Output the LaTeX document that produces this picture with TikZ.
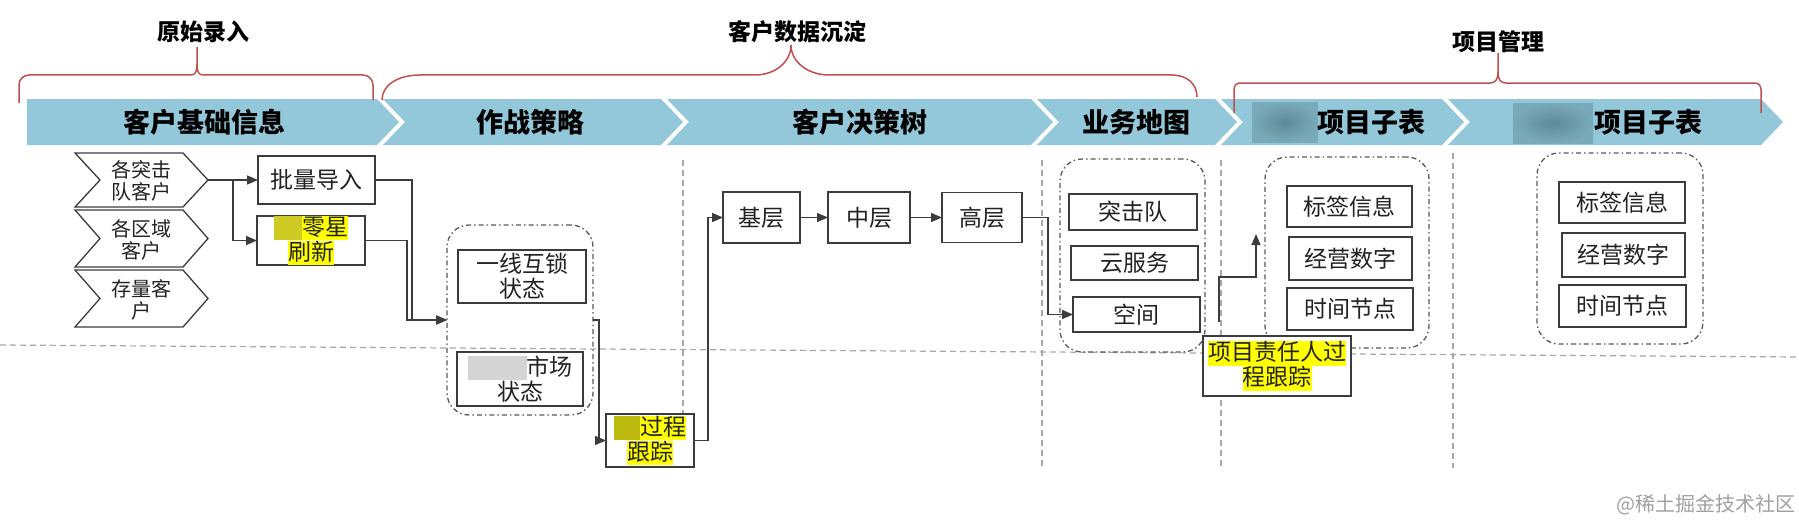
\documentclass[tikz,border=0pt]{standalone}
\usepackage{fontspec}
\setmainfont{Noto Sans CJK SC}
\usetikzlibrary{arrows.meta}
\definecolor{band}{HTML}{92C8DA}
\definecolor{bandblur}{HTML}{5F8A98}
\definecolor{bandblurout}{HTML}{7AAAB9}
\definecolor{bracecol}{HTML}{C0504D}
\definecolor{ln}{HTML}{3C3C3C}
\definecolor{txt}{HTML}{222222}
\definecolor{gridcol}{HTML}{A8A8A8}
\definecolor{hly}{HTML}{FFFF00}
\definecolor{blury}{HTML}{CFCB25}
\definecolor{blurytwo}{HTML}{BDBA10}
\definecolor{blurg}{HTML}{D4D4D4}
\definecolor{wm}{HTML}{A0A0A0}
\newcommand{\hlt}[1]{{\setlength{\fboxsep}{0pt}\colorbox{hly}{\rule[-0.2em]{0pt}{1.05em}#1}}}
\begin{document}
\begin{tikzpicture}[x=1pt,y=-1pt,
  box/.style={draw=ln, line width=1.4pt, fill=white, inner sep=0pt, outer sep=0pt, align=center, text=txt, font=\fontsize{23}{25}\selectfont},
  grp/.style={draw=ln!85, line width=1.3pt, rounded corners=22pt, dash pattern=on 5pt off 3pt on 1.5pt off 3pt, inner sep=0pt, outer sep=0pt},
  gridline/.style={draw=gridcol, line width=1.2pt, dash pattern=on 6pt off 4pt},
  arr/.style={draw=ln, line width=1.4pt, -{Triangle[length=11pt,width=9pt]}},
  bracel/.style={draw=bracecol, line width=1.5pt},
  bandtxt/.style={font=\fontsize{27}{30}\selectfont\bfseries, inner sep=0pt, text=black},
  toptxt/.style={font=\fontsize{23}{25}\selectfont\bfseries, inner sep=0pt, text=black},
  chevtxt/.style={font=\fontsize{20}{22}\selectfont, align=center, inner sep=0pt, text=txt},
  chev/.style={draw=ln, line width=1.3pt, fill=white},
]
\useasboundingbox (0,0) rectangle (1799,527);
\fill[white] (0,0) rectangle (1799,527);

% grid lines
\draw[gridline] (0,345) -- (1799,357);
\draw[gridline] (683,160) -- (683,468);
\draw[gridline] (1042,160) -- (1042,468);
\draw[gridline] (1221,160) -- (1221,468);
\draw[gridline] (1453,153) -- (1453,468);

% band
\fill[band] (27,99) -- (377,99) -- (399,122) -- (377,145) -- (27,145) -- cycle;
\fill[band] (383,99) -- (661,99) -- (683,122) -- (661,145) -- (383,145) -- (405,122) -- cycle;
\fill[band] (667,99) -- (1031,99) -- (1053,122) -- (1031,145) -- (667,145) -- (689,122) -- cycle;
\fill[band] (1037,99) -- (1215,99) -- (1237,122) -- (1215,145) -- (1037,145) -- (1059,122) -- cycle;
\fill[band] (1221,99) -- (1442,99) -- (1464,122) -- (1442,145) -- (1221,145) -- (1243,122) -- cycle;
\fill[band] (1448,99) -- (1761,99) -- (1783,122) -- (1761,145) -- (1448,145) -- (1470,122) -- cycle;
\shade[inner color=bandblur, outer color=bandblurout] (1252,102) rectangle (1318,142);
\shade[inner color=bandblur, outer color=bandblurout] (1513,103) rectangle (1593,143);
\node[bandtxt] (s1) at (204,122) {客户基础信息};
\node[bandtxt] (s2) at (530,122) {作战策略};
\node[bandtxt] (s3) at (860,122) {客户决策树};
\node[bandtxt] (s4) at (1136,122) {业务地图};
\node[bandtxt] (s5) at (1371.5,122) {项目子表};
\node[bandtxt] (s6) at (1648.5,122) {项目子表};

% braces
\draw[bracel] (19,103) -- (19,85) .. controls (19,79.5) and (23.5,75) .. (29,75) -- (191,75)
  .. controls (195,75) and (197,72) .. (197,65) -- (197,47) -- (197,65)
  .. controls (197,72) and (199,75) .. (203,75) -- (363,75)
  .. controls (368.5,75) and (373,79.5) .. (373,85) -- (373,100);
\draw[bracel] (382,100) .. controls (382,85) and (398,75) .. (420,75) -- (755,75)
  .. controls (775,75) and (791,62) .. (791,45) .. controls (791,62) and (808,75) .. (829,75)
  -- (1172,75) .. controls (1187,75) and (1197,84) .. (1197,97);
\draw[bracel] (1234,113) -- (1234,90) .. controls (1234,86) and (1236,83) .. (1240,83) -- (1490,83)
  .. controls (1495,83) and (1498,80) .. (1498,72) -- (1498,53) -- (1498,72)
  .. controls (1498,80) and (1501,83) .. (1506,83) -- (1755,83)
  .. controls (1759,83) and (1761,86) .. (1761,90) -- (1761,113);
\node[toptxt] (t1) at (203,32) {原始录入};
\node[toptxt] (t2) at (797,32) {客户数据沉淀};
\node[toptxt] (t3) at (1498,42) {项目管理};

% chevrons
\draw[chev] (75,153) -- (183,153) -- (208,180) -- (183,207) -- (75,207) -- (100,180) -- cycle;
\draw[chev] (75,210) -- (183,210) -- (208,238.5) -- (183,267) -- (75,267) -- (100,238.5) -- cycle;
\draw[chev] (75,270) -- (183,270) -- (208,298.5) -- (183,327) -- (75,327) -- (100,298.5) -- cycle;
\node[chevtxt] (c1) at (141,181) {各突击\\队客户};
\node[chevtxt] (c2) at (141,240) {各区域\\客户};
\node[chevtxt] (c3) at (141,300) {存量客\\户};
\coordinate (c1tip) at (208,180);
\coordinate (br) at (233,180);

% groups
\node[grp, minimum width=146pt, minimum height=190pt] (g1) at (520,320) {};
\node[grp, minimum width=145pt, minimum height=193pt] (g2) at (1132.5,255.5) {};
\node[grp, minimum width=164pt, minimum height=191pt] (g3) at (1347,252.5) {};
\node[grp, minimum width=166pt, minimum height=191pt] (g4) at (1620,248.5) {};

% boxes
\node[box, minimum width=117pt, minimum height=48pt] (pl) at (316.5,180) {批量导入};
\node[box, minimum width=108pt, minimum height=49pt] (lx) at (311,240.5)
  {\hlt{\textcolor{blury}{\rule[-0.2em]{28pt}{1.05em}}零星}\\\hlt{刷新}};
\node[box, minimum width=128pt, minimum height=53pt] (yx) at (522,276.5) {一线互锁\\状态};
\node[box, minimum width=126pt, minimum height=54pt] (sc) at (520,379)
  {\textcolor{blurg}{\rule[-0.2em]{59pt}{1.05em}}市场\\状态};
\node[box, minimum width=88pt, minimum height=53pt] (gc) at (650,440.5)
  {\hlt{\textcolor{blurytwo}{\rule[-0.2em]{26pt}{1.05em}}过程}\\\hlt{跟踪}};
\node[box, minimum width=77pt, minimum height=51pt] (jc) at (761.5,217.5) {基层};
\node[box, minimum width=82pt, minimum height=51pt] (zc) at (869,217.5) {中层};
\node[box, minimum width=80pt, minimum height=50pt] (gx) at (982,217.5) {高层};
\node[box, minimum width=128pt, minimum height=36pt] (tj) at (1133,212) {突击队};
\node[box, minimum width=127pt, minimum height=34pt] (yf) at (1134.5,263) {云服务};
\node[box, minimum width=127pt, minimum height=35pt] (kj) at (1136.5,314.5) {空间};
\node[box, minimum width=125pt, minimum height=41pt] (bqa) at (1349.5,206.5) {标签信息};
\node[box, minimum width=123pt, minimum height=43pt] (jya) at (1350.5,258.5) {经营数字};
\node[box, minimum width=126pt, minimum height=42pt] (sja) at (1350,309) {时间节点};
\node[box, minimum width=148pt, minimum height=60pt] (xm) at (1277,366)
  {\hlt{项目责任人过}\\\hlt{程跟踪}};
\node[box, minimum width=126pt, minimum height=41pt] (bqb) at (1622,202.5) {标签信息};
\node[box, minimum width=123pt, minimum height=44pt] (jyb) at (1623.5,255) {经营数字};
\node[box, minimum width=127pt, minimum height=42pt] (sjb) at (1622.5,306) {时间节点};

% connectors
\draw[arr] (c1tip) -- (pl.west |- c1tip);
\draw[arr] (br) |- (lx.west);
\draw[arr] (pl.east) -- ++(37,0) |- (g1.west);
\draw[arr] (lx.east) -- ++(42,0) |- (g1.west);
\draw[arr] (g1.east) -- ++(6,0) |- (gc.west);
\draw[arr] (gc.east) -- ++(14,0) |- (jc.west);
\draw[arr] (jc) -- (zc);
\draw[arr] (zc) -- (gx);
\draw[arr] (gx.east) -- ++(26,0) |- (kj.west);
\coordinate (xmstart) at ([xshift=16pt,yshift=14pt]xm.north west);
\coordinate (xmbend) at (1256,277);
\coordinate (xmend) at (1256,234);
\draw[arr] (xmstart) |- (xmbend) -- (xmend);

% watermark
\node[anchor=east, inner sep=0pt, text=wm, font=\fontsize{20}{22}\selectfont] (wmk) at (1796,505) {@稀土掘金技术社区};
\end{tikzpicture}
\end{document}
